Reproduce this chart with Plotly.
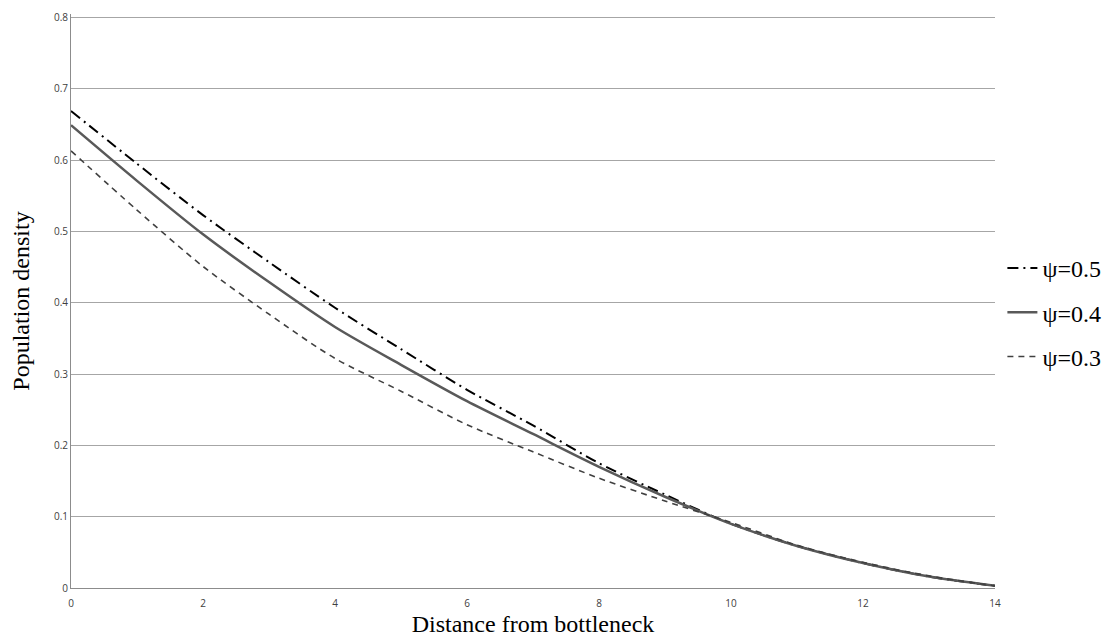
import plotly.graph_objects as go

distance = [0, 1, 2, 3, 4, 5, 6, 7, 8, 9, 10, 11, 12, 13, 14]
psi_05 = [0.669, 0.595, 0.523, 0.457, 0.393, 0.335, 0.278, 0.228, 0.175, 0.131, 0.090, 0.059, 0.035, 0.016, 0.003]
psi_04 = [0.649, 0.571, 0.496, 0.429, 0.366, 0.313, 0.262, 0.216, 0.170, 0.128, 0.090, 0.059, 0.035, 0.016, 0.003]
psi_03 = [0.613, 0.530, 0.451, 0.384, 0.322, 0.276, 0.229, 0.191, 0.154, 0.122, 0.092, 0.060, 0.036, 0.017, 0.003]

series = [
    ("ψ=0.5", psi_05, dict(color="#000000", width=2, dash="11px,5px,2px,5px")),
    ("ψ=0.4", psi_04, dict(color="#595959", width=2.5, dash="solid")),
    ("ψ=0.3", psi_03, dict(color="#404040", width=1.6, dash="6px,5px")),
]

fig = go.Figure()
for i, (name, vals, ln) in enumerate(series):
    fig.add_trace(go.Scatter(
        x=distance, y=vals, mode="lines", name=name,
        line=dict(shape="spline", smoothing=0.8, **ln),
        legendgroup=f"g{i}",
    ))

fig.update_layout(
    width=1119, height=643,
    margin=dict(l=62, r=132, t=2.4, b=63),
    plot_bgcolor="white", paper_bgcolor="white",
    showlegend=True,
    legend=dict(
        x=1.008, xanchor="left", y=0.48, yanchor="middle",
        font=dict(family="Liberation Serif", size=24, color="#000000"),
        tracegroupgap=10, itemwidth=30,
        bgcolor="rgba(0,0,0,0)",
    ),
    xaxis=dict(
        range=[0, 14], tickvals=[0, 2, 4, 6, 8, 10, 12, 14],
        showgrid=False, zeroline=False,
        showline=True, linecolor="#8c8c8c", linewidth=1,
        ticks="", ticklabelstandoff=6,
        tickfont=dict(family="Open Sans", size=10, color="#404040"),
        title=dict(text="Distance from bottleneck", standoff=6,
                   font=dict(family="Liberation Serif", size=24, color="#000000")),
    ),
    yaxis=dict(
        range=[0, 0.805], tickvals=[0, 0.1, 0.2, 0.3, 0.4, 0.5, 0.6, 0.7, 0.8],
        ticktext=["0", "0.1", "0.2", "0.3", "0.4", "0.5", "0.6", "0.7", "0.8"],
        showgrid=True, gridcolor="#a6a6a6", gridwidth=1, zeroline=False,
        showline=True, linecolor="#8c8c8c", linewidth=1,
        ticks="", ticklen=0, ticklabeloverflow="allow",
        tickfont=dict(family="Open Sans", size=10, color="#404040"),
        title=dict(text="Population density", standoff=27,
                   font=dict(family="Liberation Serif", size=24, color="#000000")),
    ),
)

fig.write_html("out.html")
